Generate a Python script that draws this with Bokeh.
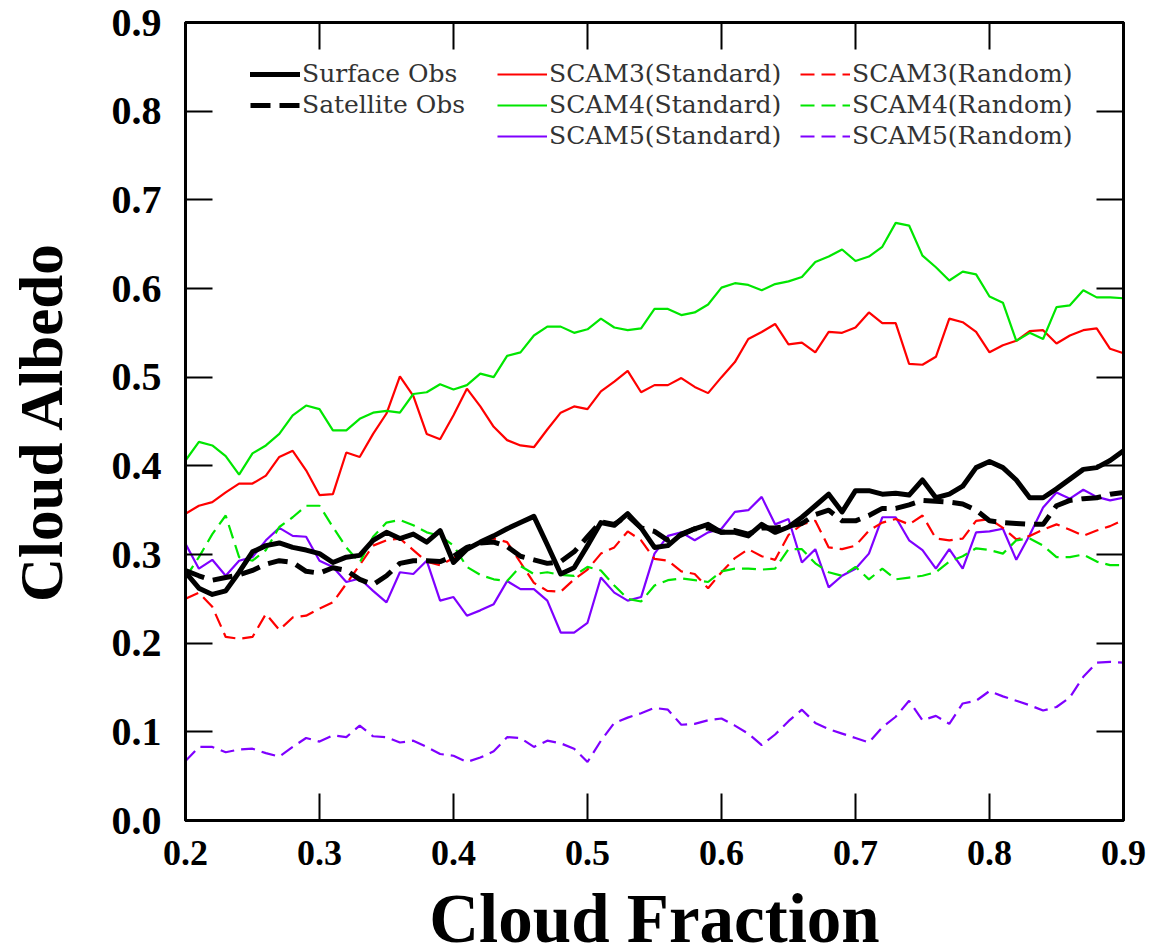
from bokeh.plotting import figure
from bokeh.layouts import column
from bokeh.models import (Legend, LegendItem, LinearAxis, FixedTicker,
                          PrintfTickFormatter, Range1d, Label, CustomLabelingPolicy)
from bokeh.embed import file_html
from bokeh.resources import INLINE

cloud_fraction = [0.20, 0.21, 0.22, 0.23, 0.24, 0.25, 0.26, 0.27, 0.28, 0.29,
                  0.30, 0.31, 0.32, 0.33, 0.34, 0.35, 0.36, 0.37, 0.38, 0.39,
                  0.40, 0.41, 0.42, 0.43, 0.44, 0.45, 0.46, 0.47, 0.48, 0.49,
                  0.50, 0.51, 0.52, 0.53, 0.54, 0.55, 0.56, 0.57, 0.58, 0.59,
                  0.60, 0.61, 0.62, 0.63, 0.64, 0.65, 0.66, 0.67, 0.68, 0.69,
                  0.70, 0.71, 0.72, 0.73, 0.74, 0.75, 0.76, 0.77, 0.78, 0.79,
                  0.80, 0.81, 0.82, 0.83, 0.84, 0.85, 0.86, 0.87, 0.88, 0.89,
                  0.90]

surface_obs = [0.280, 0.262, 0.255, 0.259, 0.280, 0.303, 0.310, 0.313, 0.308, 0.305,
               0.301, 0.291, 0.297, 0.299, 0.316, 0.325, 0.318, 0.323, 0.314, 0.327,
               0.291, 0.306, 0.314, 0.321, 0.329, 0.336, 0.343, 0.311, 0.278, 0.285,
               0.310, 0.336, 0.333, 0.346, 0.330, 0.308, 0.310, 0.323, 0.329, 0.334,
               0.325, 0.325, 0.321, 0.334, 0.325, 0.331, 0.342, 0.355, 0.368, 0.348,
               0.372, 0.372, 0.368, 0.369, 0.367, 0.384, 0.364, 0.368, 0.377, 0.398,
               0.405, 0.398, 0.384, 0.364, 0.364, 0.374, 0.385, 0.396, 0.398, 0.406,
               0.417]

satellite_obs = [0.282, 0.276, 0.271, 0.274, 0.277, 0.282, 0.289, 0.293, 0.291, 0.281,
                 0.279, 0.285, 0.282, 0.272, 0.266, 0.276, 0.290, 0.293, 0.293, 0.292,
                 0.298, 0.308, 0.313, 0.314, 0.309, 0.298, 0.294, 0.290, 0.292, 0.303,
                 0.320, 0.337, 0.334, 0.344, 0.330, 0.326, 0.316, 0.322, 0.329, 0.330,
                 0.325, 0.327, 0.323, 0.330, 0.330, 0.332, 0.335, 0.345, 0.350, 0.338,
                 0.338, 0.344, 0.352, 0.352, 0.356, 0.361, 0.360, 0.359, 0.357, 0.350,
                 0.338, 0.336, 0.335, 0.334, 0.334, 0.355, 0.361, 0.363, 0.364, 0.368,
                 0.370]

scam3_standard = [0.346, 0.355, 0.359, 0.370, 0.380, 0.380, 0.389, 0.410, 0.417, 0.395,
                  0.367, 0.368, 0.415, 0.410, 0.436, 0.459, 0.501, 0.479, 0.436, 0.430,
                  0.457, 0.487, 0.467, 0.444, 0.429, 0.423, 0.421, 0.441, 0.460, 0.467,
                  0.464, 0.484, 0.495, 0.507, 0.483, 0.491, 0.491, 0.499, 0.489, 0.482,
                  0.500, 0.517, 0.543, 0.551, 0.560, 0.537, 0.539, 0.528, 0.551, 0.550,
                  0.556, 0.573, 0.561, 0.561, 0.515, 0.514, 0.523, 0.566, 0.562, 0.551,
                  0.528, 0.536, 0.541, 0.552, 0.553, 0.538, 0.547, 0.553, 0.555, 0.532,
                  0.527]

scam4_standard = [0.406, 0.427, 0.423, 0.411, 0.390, 0.414, 0.423, 0.436, 0.457, 0.468,
                  0.464, 0.440, 0.440, 0.453, 0.460, 0.462, 0.460, 0.481, 0.483, 0.492,
                  0.486, 0.491, 0.504, 0.500, 0.524, 0.528, 0.547, 0.557, 0.557, 0.550,
                  0.554, 0.566, 0.556, 0.553, 0.555, 0.577, 0.577, 0.570, 0.573, 0.582,
                  0.601, 0.606, 0.604, 0.598, 0.605, 0.608, 0.613, 0.630, 0.636, 0.644,
                  0.631, 0.636, 0.647, 0.674, 0.671, 0.637, 0.624, 0.609, 0.619, 0.616,
                  0.591, 0.584, 0.541, 0.550, 0.543, 0.579, 0.581, 0.598, 0.590, 0.590,
                  0.589]

scam5_standard = [0.312, 0.284, 0.294, 0.276, 0.293, 0.297, 0.316, 0.330, 0.321, 0.320,
                  0.293, 0.286, 0.269, 0.273, 0.259, 0.246, 0.280, 0.278, 0.293, 0.248,
                  0.252, 0.231, 0.237, 0.244, 0.270, 0.261, 0.261, 0.248, 0.212, 0.212,
                  0.223, 0.274, 0.257, 0.248, 0.252, 0.301, 0.321, 0.325, 0.316, 0.325,
                  0.329, 0.348, 0.350, 0.365, 0.334, 0.340, 0.291, 0.306, 0.263, 0.276,
                  0.284, 0.301, 0.342, 0.342, 0.316, 0.305, 0.284, 0.306, 0.284, 0.325,
                  0.326, 0.329, 0.294, 0.322, 0.353, 0.370, 0.363, 0.373, 0.365, 0.361,
                  0.364]

scam3_random = [0.250, 0.257, 0.241, 0.207, 0.205, 0.207, 0.233, 0.215, 0.229, 0.231,
                0.239, 0.246, 0.267, 0.288, 0.310, 0.316, 0.318, 0.305, 0.292, 0.288,
                0.296, 0.306, 0.315, 0.318, 0.314, 0.291, 0.268, 0.259, 0.258, 0.272,
                0.283, 0.301, 0.308, 0.326, 0.316, 0.295, 0.293, 0.281, 0.278, 0.262,
                0.280, 0.296, 0.306, 0.298, 0.294, 0.322, 0.334, 0.338, 0.308, 0.306,
                0.310, 0.327, 0.336, 0.340, 0.334, 0.344, 0.318, 0.316, 0.318, 0.338,
                0.340, 0.330, 0.317, 0.321, 0.328, 0.334, 0.328, 0.321, 0.327, 0.332,
                0.339]

scam4_random = [0.274, 0.297, 0.323, 0.344, 0.297, 0.293, 0.305, 0.331, 0.342, 0.355,
                0.355, 0.331, 0.308, 0.291, 0.320, 0.336, 0.339, 0.333, 0.325, 0.321,
                0.310, 0.286, 0.277, 0.272, 0.270, 0.287, 0.278, 0.280, 0.277, 0.276,
                0.286, 0.282, 0.265, 0.250, 0.247, 0.265, 0.271, 0.273, 0.271, 0.269,
                0.281, 0.284, 0.284, 0.283, 0.284, 0.306, 0.306, 0.290, 0.280, 0.276,
                0.286, 0.272, 0.284, 0.272, 0.274, 0.276, 0.280, 0.292, 0.298, 0.307,
                0.305, 0.301, 0.316, 0.318, 0.310, 0.297, 0.297, 0.300, 0.292, 0.288,
                0.288]

scam5_random = [0.067, 0.083, 0.083, 0.077, 0.080, 0.081, 0.076, 0.072, 0.083, 0.093,
                0.089, 0.096, 0.094, 0.107, 0.095, 0.094, 0.088, 0.090, 0.083, 0.075,
                0.073, 0.066, 0.071, 0.078, 0.094, 0.093, 0.083, 0.090, 0.087, 0.081,
                0.066, 0.090, 0.110, 0.116, 0.121, 0.127, 0.125, 0.108, 0.109, 0.113,
                0.115, 0.107, 0.098, 0.085, 0.097, 0.112, 0.125, 0.110, 0.103, 0.098,
                0.093, 0.088, 0.105, 0.117, 0.135, 0.113, 0.118, 0.109, 0.132, 0.135,
                0.146, 0.140, 0.135, 0.130, 0.124, 0.128, 0.139, 0.162, 0.178, 0.179,
                0.178]

x_ticks = [0.2, 0.3, 0.4, 0.5, 0.6, 0.7, 0.8, 0.9]
y_ticks = [0.0, 0.1, 0.2, 0.3, 0.4, 0.5, 0.6, 0.7, 0.8, 0.9]
x_title = "Cloud Fraction"
y_title = "Cloud Albedo"

RED = "#FF0000"
GREEN = "#00E600"
PURPLE = "#7F00FF"
SERIF = "Liberation Serif"
LEGEND_FONT = "DejaVu Serif"

MAIN_H = 884
p = figure(width=1162, height=MAIN_H, x_range=Range1d(0.2, 0.9), y_range=Range1d(0.0, 0.9),
           output_backend="svg", toolbar_location=None,
           min_border_left=185, min_border_right=39, min_border_top=22,
           min_border_bottom=MAIN_H - 820)
p.xgrid.visible = False
p.ygrid.visible = False
p.outline_line_color = "black"
p.outline_line_width = 3
p.background_fill_color = "white"
p.border_fill_color = "white"

hide_all_labels = CustomLabelingPolicy(code="""
    for (const i of indices) indices.unset(i)
    return indices
""")


def style_axis(ax, ticks, show_labels, size="36px"):
    ax.ticker = FixedTicker(ticks=ticks)
    ax.formatter = PrintfTickFormatter(format="%.1f")
    ax.major_tick_in = 27
    ax.major_tick_out = 0
    ax.major_tick_line_width = 2
    ax.major_tick_line_color = "black"
    ax.minor_tick_line_color = None
    ax.axis_line_width = 3
    ax.axis_line_color = "black"
    ax.major_label_text_font = SERIF
    ax.major_label_text_font_style = "bold"
    ax.major_label_text_color = "black"
    if show_labels:
        ax.major_label_text_font_size = size
    else:
        ax.major_label_text_font_size = "1px"
        ax.major_label_policy = hide_all_labels
        ax.major_label_standoff = 0


style_axis(p.xaxis[0], x_ticks, True, "36px")
style_axis(p.yaxis[0], y_ticks, True, "40px")
p.xaxis[0].major_label_standoff = 20
p.yaxis[0].major_label_standoff = 24

p.yaxis[0].axis_label = y_title
p.yaxis[0].axis_label_text_font = SERIF
p.yaxis[0].axis_label_text_font_style = "bold"
p.yaxis[0].axis_label_text_color = "black"
p.yaxis[0].axis_label_text_font_size = "61px"
p.yaxis[0].axis_label_standoff = 34

top_ax = LinearAxis()
style_axis(top_ax, x_ticks, False)
p.add_layout(top_ax, "above")
right_ax = LinearAxis()
style_axis(right_ax, y_ticks, False)
p.add_layout(right_ax, "right")

r_s3s = p.line(cloud_fraction, scam3_standard, line_color=RED, line_width=2.2)
r_s4s = p.line(cloud_fraction, scam4_standard, line_color=GREEN, line_width=2.2)
r_s5s = p.line(cloud_fraction, scam5_standard, line_color=PURPLE, line_width=2.2)
r_s3r = p.line(cloud_fraction, scam3_random, line_color=RED, line_width=2.2, line_dash="14 7")
r_s4r = p.line(cloud_fraction, scam4_random, line_color=GREEN, line_width=2.2, line_dash="14 7")
r_s5r = p.line(cloud_fraction, scam5_random, line_color=PURPLE, line_width=2.2, line_dash="14 7")
r_sfc = p.line(cloud_fraction, surface_obs, line_color="black", line_width=5,
               line_join="round", line_cap="round")
r_sat = p.line(cloud_fraction, satellite_obs, line_color="black", line_width=5,
               line_dash="20 9", line_join="round")

# legend: three columns, one single-item legend per slot
col_x = [65, 312, 615]
row_y = [732, 701, 670]
legend_slots = [
    ("Surface Obs", r_sfc, 0, 0), ("Satellite Obs", r_sat, 0, 1),
    ("SCAM3(Standard)", r_s3s, 1, 0), ("SCAM4(Standard)", r_s4s, 1, 1),
    ("SCAM5(Standard)", r_s5s, 1, 2),
    ("SCAM3(Random)", r_s3r, 2, 0), ("SCAM4(Random)", r_s4r, 2, 1),
    ("SCAM5(Random)", r_s5r, 2, 2),
]
for label, rend, c, r in legend_slots:
    leg = Legend(items=[LegendItem(label=label, renderers=[rend])],
                 location=(col_x[c], row_y[r]), orientation="vertical",
                 label_text_font=LEGEND_FONT, label_text_font_size="25px",
                 label_text_color="#333333", label_standoff=2,
                 glyph_width=50, glyph_height=24, label_height=24,
                 spacing=0, padding=0, margin=0,
                 border_line_color=None, background_fill_alpha=0)
    p.add_layout(leg, "center")

# x-axis title strip underneath the plot (its frame is aligned with the main frame)
TITLE_H = 950 - MAIN_H
t = figure(width=1162, height=TITLE_H, x_range=Range1d(0, 1), y_range=Range1d(0, 1),
           output_backend="svg", toolbar_location=None,
           x_axis_location=None, y_axis_location=None, min_border=0)
t.outline_line_color = None
t.xgrid.visible = False
t.ygrid.visible = False
t.background_fill_color = "white"
t.border_fill_color = "white"
t.add_layout(Label(x=0.5, y=TITLE_H - (918 - MAIN_H), x_units="data", y_units="screen",
                   text=x_title, text_align="center", text_baseline="middle",
                   text_font=SERIF, text_font_style="bold", text_font_size="69px",
                   text_color="black"))

layout = column(p, t, spacing=0)
open("out.html", "w").write(file_html(layout, INLINE))
